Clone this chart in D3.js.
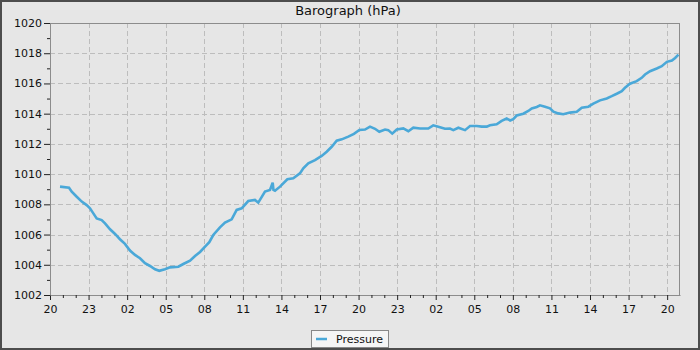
<!DOCTYPE html>
<html><head><meta charset="utf-8">
<script src="https://cdn.jsdelivr.net/npm/d3@7"></script>
<style>body{margin:0;background:#fff}svg{display:block}</style>
</head><body><svg id="c" width="700" height="350"></svg>
<script>
// hours since 20:00 of the first day
const hours = [0.78,1.48,1.69,2.08,2.47,2.85,3.11,3.37,3.63,4.02,4.28,4.67,5.06,5.44,5.83,6.22,6.61,7.0,7.39,7.78,8.17,8.5,8.94,9.33,9.98,10.37,10.89,11.28,11.67,12.06,12.39,
12.7,13.22,13.61,14.13,14.52,14.91,15.42,15.94,16.2,16.72,17.11,17.32,17.38,17.5,17.89,18.46,18.92,19.44,19.7,20.09,20.61,21.13,21.52,21.91,22.3,22.69,23.2,23.64,24.06,
24.5,24.89,25.28,25.61,26.06,26.31,26.62,26.97,27.48,27.87,28.26,28.78,29.42,29.81,30.2,30.72,31.11,31.37,31.76,32.28,32.67,33.19,33.58,33.97,34.22,34.74,35.13,35.52,35.79,36.03,36.3,
36.81,37.2,37.47,37.86,38.11,38.5,38.89,39.15,39.53,39.92,40.44,40.97,41.36,41.87,42.26,42.78,43.3,43.69,44.08,44.47,44.72,45.11,45.63,46.02,46.28,46.67,47.19,47.58,47.98,48.37,48.62,48.88];
const pressure = [1009.17,1009.1,1008.84,1008.5,1008.18,1007.95,1007.74,1007.4,1007.07,1006.96,1006.74,1006.35,1006.04,1005.69,1005.38,1004.94,1004.65,1004.43,1004.1,1003.92,1003.7,1003.6,1003.7,1003.83,1003.87,1004.05,1004.27,1004.58,1004.85,1005.2,1005.5,
1005.97,1006.48,1006.79,1007.01,1007.63,1007.74,1008.22,1008.29,1008.11,1008.84,1008.95,1009.43,1008.95,1008.9,1009.17,1009.66,1009.72,1010.05,1010.39,1010.72,1010.93,1011.2,1011.48,1011.81,1012.21,1012.3,1012.48,1012.66,1012.92,
1012.95,1013.14,1013.0,1012.8,1012.95,1012.91,1012.68,1012.95,1013.02,1012.84,1013.07,1013.02,1013.02,1013.23,1013.14,1013.0,1013.02,1012.91,1013.07,1012.91,1013.18,1013.18,1013.14,1013.14,1013.23,1013.3,1013.52,1013.68,1013.55,1013.64,1013.88,
1014.0,1014.18,1014.35,1014.44,1014.55,1014.46,1014.35,1014.13,1014.02,1013.96,1014.07,1014.13,1014.4,1014.46,1014.66,1014.88,1015.01,1015.16,1015.32,1015.49,1015.71,1015.98,1016.15,1016.37,1016.59,1016.81,1016.99,1017.14,1017.43,1017.52,1017.69,1017.91];
const xTickHours = [0,3,6,9,12,15,18,21,24,27,30,33,36,39,42,45,48];
const xTickLabels = ["20","23","02","05","08","11","14","17","20","23","02","05","08","11","14","17","20"];
const yTicks = [1002,1004,1006,1008,1010,1012,1014,1016,1018,1020];
const yMinor = [1003,1005,1007,1009,1011,1013,1015,1017,1019];
const seriesName = "Pressure";
const title = "Barograph (hPa)";

const svg = d3.select("#c");
const font = "DejaVu Sans, sans-serif";
const L = 50, R = 680, T = 23, B = 295;
svg.append("rect").attr("x",1).attr("y",1).attr("width",698).attr("height",348)
  .attr("fill","#e6e6e6").attr("stroke","#4d4d4d").attr("stroke-width",2);

const x = d3.scaleLinear().domain([0,49]).range([L,R]);
const y = d3.scaleLinear().domain([1002,1020]).range([B,T]);

// grid
const g = svg.append("g");
g.selectAll("line.gx").data(xTickHours.slice(1)).join("line")
  .attr("x1",d=>Math.round(x(d))+0.5).attr("x2",d=>Math.round(x(d))+0.5).attr("y1",T).attr("y2",B)
  .attr("stroke","#bdbdbd").attr("stroke-dasharray","5,3");
g.selectAll("line.gy").data(yTicks.slice(1,-1)).join("line")
  .attr("y1",d=>Math.round(y(d))+0.5).attr("y2",d=>Math.round(y(d))+0.5).attr("x1",L).attr("x2",R)
  .attr("stroke","#bdbdbd").attr("stroke-dasharray","5,3");

// plot frame
svg.append("rect").attr("x",L+0.5).attr("y",T+0.5).attr("width",R-L-1).attr("height",B-T)
  .attr("fill","none").attr("stroke","#8c8c8c");

// line
const line = d3.line().x((d,i)=>x(hours[i])).y(d=>y(d));
svg.append("path").datum(pressure).attr("d",line).attr("fill","none")
  .attr("stroke","#4aa8d8").attr("stroke-width",2.6).attr("stroke-linejoin","miter");

// x axis
const xAxis = d3.axisBottom(x).tickValues(xTickHours).tickSize(5).tickSizeOuter(0)
  .tickFormat((d,i)=>xTickLabels[i]);
const xa = svg.append("g").attr("transform",`translate(0,${B})`).call(xAxis);
const xMinor = d3.range(49).filter(h=>h%3!==0);
svg.append("g").attr("transform",`translate(0,${B})`)
  .call(d3.axisBottom(x).tickValues(xMinor).tickSize(3).tickFormat("")).call(s=>s.select(".domain").remove());
// y axis
const ya = svg.append("g").attr("transform",`translate(${L},0)`)
  .call(d3.axisLeft(y).tickValues(yTicks).tickSize(6).tickSizeOuter(0).tickFormat(d3.format("d")));
svg.append("g").attr("transform",`translate(${L},0)`)
  .call(d3.axisLeft(y).tickValues(yMinor).tickSize(3).tickFormat("")).call(s=>s.select(".domain").remove());

svg.selectAll(".tick line").attr("stroke","#222");
svg.selectAll(".domain").attr("stroke","#8c8c8c");
svg.selectAll(".tick text").attr("font-family",font).attr("font-size",11).attr("fill","#111");
xa.selectAll(".tick text").attr("dy","0.9em");
ya.selectAll(".tick text").attr("x",-8);

// title
svg.append("text").attr("x",348).attr("y",15).attr("text-anchor","middle")
  .attr("font-family",font).attr("font-size",13).attr("fill","#111").text(title);

// legend
const lg = svg.append("g");
lg.append("rect").attr("x",311.5).attr("y",330.5).attr("width",77).attr("height",17)
  .attr("fill","#f5f5f5").attr("stroke","#888");
lg.append("line").attr("x1",316).attr("x2",327).attr("y1",339).attr("y2",339)
  .attr("stroke","#4aa8d8").attr("stroke-width",2.5);
lg.append("text").attr("x",336).attr("y",343).attr("font-family",font).attr("font-size",11)
  .attr("fill","#111").text(seriesName);
</script></body></html>
